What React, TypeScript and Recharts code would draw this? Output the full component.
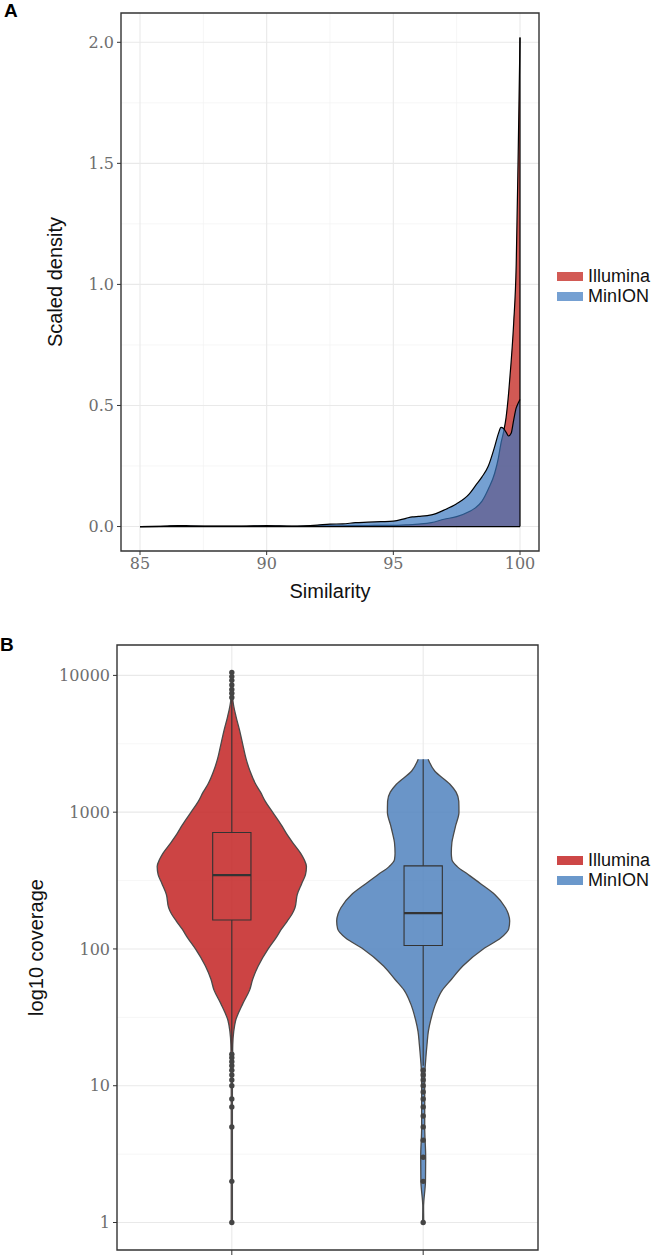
import React from 'react';
import {
  ComposedChart,
  Area,
  Scatter,
  XAxis,
  YAxis,
  CartesianGrid,
  ReferenceLine,
  ReferenceArea,
} from 'recharts';

// ---- panel A: scaled density of read similarity ----
const similarity = [
  85, 86, 86.5, 87, 88, 89, 90, 91, 92, 92.5,
  93, 93.5, 94, 94.5, 95, 95.5, 95.75, 96, 96.5, 97,
  97.5, 98, 98.25, 98.5, 98.75, 99, 99.15, 99.25, 99.35, 99.45,
  99.55, 99.65, 99.75, 99.85, 99.93, 100,
];
const illuminaDensity = [
  0, 0.001, 0.002, 0.001, 0.001, 0.001, 0.002, 0.001, 0.002, 0.003,
  0.003, 0.004, 0.004, 0.005, 0.005, 0.007, 0.008, 0.01, 0.016, 0.03,
  0.041, 0.062, 0.078, 0.105, 0.155, 0.22, 0.285, 0.345, 0.39, 0.45,
  0.55, 0.68, 0.84, 1.08, 1.55, 2.02,
];
const minionDensity = [
  0, 0.002, 0.004, 0.003, 0.002, 0.002, 0.004, 0.002, 0.006, 0.01,
  0.011, 0.016, 0.018, 0.02, 0.022, 0.034, 0.04, 0.042, 0.048, 0.068,
  0.094, 0.135, 0.17, 0.205, 0.25, 0.33, 0.385, 0.41, 0.405, 0.39,
  0.374, 0.385, 0.44, 0.49, 0.51, 0.525,
];
const similarityTicks = [85, 90, 95, 100];
const similarityMinor = [87.5, 92.5, 97.5];
const densityTicks = [0, 0.5, 1, 1.5, 2];
const densityMinor = [0.25, 0.75, 1.25, 1.75];

// ---- panel B: coverage violins ----
const platforms = ['Illumina', 'MinION'];
const coverageLevels = [
  1, 1.3, 2, 3, 5, 8, 10, 12.5, 16, 20,
  25, 30, 40, 50, 60, 75, 100, 120, 140, 160,
  180, 200, 250, 300, 350, 400, 450, 500, 600, 700,
  800, 1000, 1200, 1400, 1600, 2000, 2440, 3000, 4000, 5000,
  6500, 8000, 10500,
];
// violin half widths (in category units)
const illuminaHalfWidth = [
  0.003, 0.003, 0.003, 0.003, 0.003, 0.003, 0.003, 0.003, 0.004, 0.005,
  0.01, 0.02, 0.058, 0.093, 0.109, 0.138, 0.19, 0.23, 0.26, 0.29,
  0.315, 0.33, 0.342, 0.365, 0.385, 0.39, 0.378, 0.36, 0.318, 0.285,
  0.26, 0.213, 0.175, 0.15, 0.125, 0.095, 0.075, 0.06, 0.04, 0.022,
  0.006, 0.003, 0.002,
];
const minionHalfWidth = [
  0.003, 0.002, 0.012, 0.013, 0.008, 0.008, 0.008, 0.009, 0.014, 0.02,
  0.027, 0.039, 0.066, 0.1, 0.148, 0.207, 0.314, 0.405, 0.447, 0.452,
  0.445, 0.43, 0.374, 0.3, 0.235, 0.178, 0.15, 0.147, 0.15, 0.16,
  0.17, 0.187, 0.186, 0.172, 0.14, 0.06, 0.026, null, null, null,
  null, null, null,
];
const illuminaBox = { low: 18, q1: 163, median: 347, q3: 711, high: 6600 };
const minionBox = { low: 14, q1: 106, median: 183, q3: 405, high: 2440 };
const illuminaOutliers = [1, 2, 5, 7, 8, 10, 11, 12, 13, 14, 15, 16, 17, 6900, 7400, 7900, 8500, 9200, 9800, 10500];
const minionOutliers = [1, 2, 3, 4, 5, 6, 7, 8, 9, 10, 11, 12, 13];
const coverageTicks = [1, 10, 100, 1000, 10000];
const coverageMinor = [3.162, 31.62, 316.2, 3162];

const FRAME = '#333333';
const GRID = '#e9e9e9';
const GRID_MINOR = '#f2f2f2';
const tickText = { fontFamily: 'DejaVu Serif', fontSize: 16, fill: '#6e6e6e' };
const titleFont = 'Liberation Sans, Arial, sans-serif';

function Legend({ top, colors }: { top: number; colors: string[] }) {
  return (
    <div style={{ position: 'absolute', left: 557, top, fontFamily: titleFont, fontSize: 18, color: '#111' }}>
      {platforms.map((p, i) => (
        <div key={p} style={{ display: 'flex', alignItems: 'center', height: 20 }}>
          <div style={{ width: 26, height: 9, background: colors[i], marginRight: 5 }} />
          <span>{p}</span>
        </div>
      ))}
    </div>
  );
}

function DensityPanel() {
  const data = similarity.map((s, i) => ({ sim: s, illumina: illuminaDensity[i], minion: minionDensity[i] }));
  const xMin = similarity[0];
  const xMax = similarity[similarity.length - 1];
  const yTop = Math.max(...illuminaDensity, ...minionDensity);
  const xPad = (xMax - xMin) * 0.05;
  const xDomain = [xMin - xPad, xMax + xPad];
  const yDomain = [-yTop * 0.05, yTop * 1.05];

  return (
    <ComposedChart width={664} height={620} data={data} margin={{ top: 13, right: 125, bottom: 19, left: 0 }}>
      <CartesianGrid horizontalValues={densityMinor} verticalValues={similarityMinor} stroke={GRID_MINOR} strokeWidth={0.7} />
      <CartesianGrid horizontalValues={densityTicks} verticalValues={similarityTicks} stroke={GRID} strokeWidth={1.1} />
      <XAxis
        type="number"
        dataKey="sim"
        domain={xDomain}
        ticks={similarityTicks}
        allowDataOverflow
        axisLine={false}
        tickLine={{ stroke: FRAME }}
        tickSize={4}
        tickMargin={3}
        tick={tickText}
        height={50}
        label={{ value: 'Similarity', position: 'insideBottom', offset: 3, fontSize: 20, fill: '#111', fontFamily: titleFont }}
      />
      <YAxis
        type="number"
        domain={yDomain}
        ticks={densityTicks}
        tickFormatter={(v: number) => v.toFixed(1)}
        allowDataOverflow
        axisLine={false}
        tickLine={{ stroke: FRAME }}
        tickSize={4}
        tickMargin={3}
        tick={tickText}
        width={121}
        label={{ value: 'Scaled density', angle: -90, position: 'insideLeft', offset: 55, fontSize: 20, fill: '#111', fontFamily: titleFont, style: { textAnchor: 'middle' } }}
      />
      <Area type="monotone" dataKey="illumina" baseValue={0} fill="#BF130C" fillOpacity={0.7} stroke="#000" strokeWidth={1.2} dot={false} activeDot={false} isAnimationActive={false} />
      <Area type="monotone" dataKey="minion" baseValue={0} fill="#3A77BF" fillOpacity={0.7} stroke="#000" strokeWidth={1.2} dot={false} activeDot={false} isAnimationActive={false} />
      <ReferenceLine segment={[{ x: xMin, y: 0 }, { x: xMax, y: 0 }]} stroke="#000" strokeWidth={1.2} />
      <ReferenceLine segment={[{ x: xMax, y: 0 }, { x: xMax, y: illuminaDensity[illuminaDensity.length - 1] }]} stroke="#000" strokeWidth={1.2} />
      <ReferenceArea x1={xDomain[0]} x2={xDomain[1]} y1={yDomain[0]} y2={yDomain[1]} fill="none" fillOpacity={0} stroke={FRAME} strokeWidth={1.4} ifOverflow="visible" />
    </ComposedChart>
  );
}

function CoveragePanel() {
  const rows = coverageLevels.map((c, i) => ({ cov: c, ill: illuminaHalfWidth[i], min: minionHalfWidth[i] }));
  const points = [
    ...illuminaOutliers.map((v) => ({ pos: 1, cov: v })),
    ...minionOutliers.map((v) => ({ pos: 2, cov: v })),
  ];
  const lo = Math.log10(Math.min(...coverageLevels));
  const hi = Math.log10(Math.max(...coverageLevels));
  const pad = (hi - lo) * 0.05;
  const yDomain = [Math.pow(10, lo - pad), Math.pow(10, hi + pad)];
  const xDomain = [0.4, 2.6];
  const boxHalf = 0.1;
  const boxes = [illuminaBox, minionBox];
  const violinFill = ['#C32323', '#5083BE'];

  return (
    <ComposedChart layout="vertical" width={664} height={635} data={rows} margin={{ top: 25, right: 126, bottom: 0, left: 0 }}>
      <CartesianGrid horizontalValues={coverageMinor} vertical={false} stroke={GRID_MINOR} strokeWidth={0.7} />
      <CartesianGrid horizontalValues={coverageTicks} verticalValues={[1, 2]} stroke={GRID} strokeWidth={1.1} />
      <XAxis
        type="number"
        dataKey="pos"
        domain={xDomain}
        ticks={[1, 2]}
        tickFormatter={() => ''}
        allowDataOverflow
        axisLine={false}
        tickLine={{ stroke: FRAME }}
        tickSize={5}
        height={5}
      />
      <YAxis
        type="number"
        dataKey="cov"
        scale="log"
        reversed
        domain={yDomain}
        ticks={coverageTicks}
        allowDataOverflow
        axisLine={false}
        tickLine={{ stroke: FRAME }}
        tickSize={4}
        tickMargin={3}
        tick={tickText}
        width={117}
        label={{ value: 'log10 coverage', angle: -90, position: 'insideLeft', offset: 36, fontSize: 20, fill: '#111', fontFamily: titleFont, style: { textAnchor: 'middle' } }}
      />
      <Area
        type="monotone"
        dataKey={(d: any) => (d.ill == null ? [null, null] : [1 - d.ill, 1 + d.ill])}
        fill={violinFill[0]}
        fillOpacity={0.85}
        stroke="#4a4a4a"
        strokeWidth={1.3}
        dot={false}
        activeDot={false}
        isAnimationActive={false}
      />
      <Area
        type="monotone"
        dataKey={(d: any) => (d.min == null ? [null, null] : [2 - d.min, 2 + d.min])}
        fill={violinFill[1]}
        fillOpacity={0.85}
        stroke="#4a4a4a"
        strokeWidth={1.3}
        dot={false}
        activeDot={false}
        isAnimationActive={false}
      />
      {boxes.map((b, i) => (
        <ReferenceArea key={'box' + i} x1={i + 1 - boxHalf} x2={i + 1 + boxHalf} y1={b.q1} y2={b.q3} fill="none" fillOpacity={0} stroke={FRAME} strokeWidth={1.1} ifOverflow="visible" />
      ))}
      {boxes.map((b, i) => (
        <ReferenceLine key={'med' + i} segment={[{ x: i + 1 - boxHalf, y: b.median }, { x: i + 1 + boxHalf, y: b.median }]} stroke={FRAME} strokeWidth={2.2} />
      ))}
      {boxes.map((b, i) => (
        <ReferenceLine key={'wu' + i} segment={[{ x: i + 1, y: b.q3 }, { x: i + 1, y: b.high }]} stroke={FRAME} strokeWidth={1.1} />
      ))}
      {boxes.map((b, i) => (
        <ReferenceLine key={'wl' + i} segment={[{ x: i + 1, y: b.low }, { x: i + 1, y: b.q1 }]} stroke={FRAME} strokeWidth={1.1} />
      ))}
      <Scatter
        data={points}
        dataKey="cov"
        isAnimationActive={false}
        shape={(p: any) => <circle cx={p.cx} cy={p.cy} r={2.7} fill="#444" />}
      />
      <ReferenceArea x1={xDomain[0]} x2={xDomain[1]} y1={yDomain[0]} y2={yDomain[1]} fill="none" fillOpacity={0} stroke={FRAME} strokeWidth={1.4} ifOverflow="visible" />
    </ComposedChart>
  );
}

export default function App() {
  const letter = { position: 'absolute' as const, fontFamily: titleFont, fontWeight: 700, fontSize: 19, color: '#000' };
  return (
    <div style={{ position: 'absolute', left: 0, top: 0, width: 664, height: 1255, background: '#fff', overflow: 'hidden' }}>
      <div style={{ position: 'absolute', left: 0, top: 0 }}>
        <DensityPanel />
      </div>
      <div style={{ position: 'absolute', left: 0, top: 620 }}>
        <CoveragePanel />
      </div>
      <div style={{ ...letter, left: 4, top: 0 }}>A</div>
      <div style={{ ...letter, left: 0, top: 634 }}>B</div>
      <Legend top={266} colors={['#D25A55', '#75A0D2']} />
      <Legend top={850} colors={['#CD4747', '#6B98CB']} />
    </div>
  );
}
